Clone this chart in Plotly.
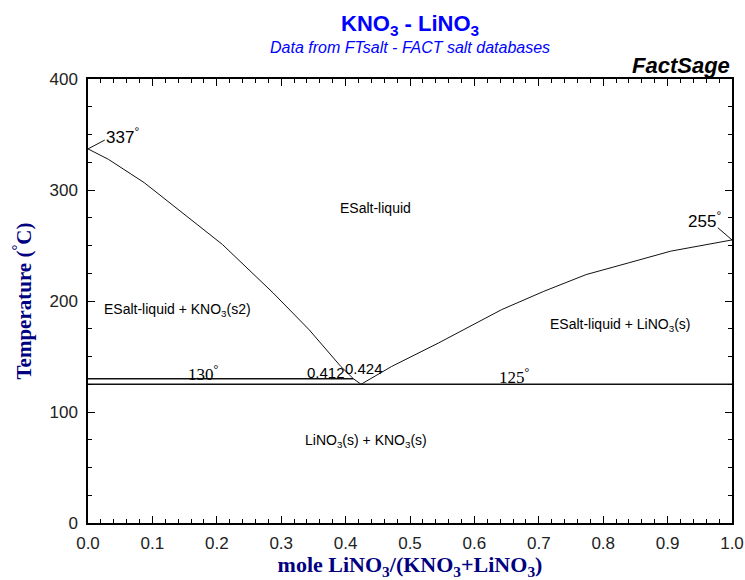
import plotly.graph_objects as go

# Liquidus, KNO3-rich branch (mole fraction LiNO3, temperature °C)
left_x = [0.0, 0.0315, 0.0873, 0.1497, 0.2088, 0.2876, 0.3434, 0.3926, 0.412, 0.424]
left_T = [337, 327.7, 306.6, 278.0, 250.9, 207.2, 174.1, 141.0, 130.0, 125.0]

# Liquidus, LiNO3-rich branch
right_x = [0.424, 0.4714, 0.5437, 0.6422, 0.7078, 0.7735, 0.8391, 0.9048, 1.0]
right_T = [125.0, 141.0, 162.0, 192.2, 208.7, 223.8, 234.3, 244.9, 255.0]

# Invariant lines
trans_x = [0.0, 0.412]
trans_T = [130, 130]
eut_x = [0.0, 1.0]
eut_T = [125, 125]

# Leader lines for melting point labels
lead337_x = [0.0, 0.026]
lead337_T = [337, 345]
lead255_x = [1.0, 0.978]
lead255_T = [255, 266]

x_ticks = [0.0, 0.1, 0.2, 0.3, 0.4, 0.5, 0.6, 0.7, 0.8, 0.9, 1.0]
y_ticks = [0, 100, 200, 300, 400]

fig = go.Figure()
for xs, ys, w in [(left_x, left_T, 1), (right_x, right_T, 1), (trans_x, trans_T, 1.6),
                  (eut_x, eut_T, 1.6), (lead337_x, lead337_T, 1), (lead255_x, lead255_T, 1)]:
    fig.add_trace(go.Scatter(x=xs, y=ys, mode="lines", line=dict(color="#111", width=w),
                             hoverinfo="skip", showlegend=False))

sans = "Liberation Sans, Arial, sans-serif"
serif = "Liberation Serif, Times New Roman, serif"

labels = [
    ("ESalt-liquid", 0.446, 284, sans, 14),
    ("ESalt-liquid + KNO<sub>3</sub>(s2)", 0.139, 192, sans, 14),
    ("ESalt-liquid + LiNO<sub>3</sub>(s)", 0.826, 178, sans, 14),
    ("LiNO<sub>3</sub>(s) + KNO<sub>3</sub>(s)", 0.432, 74, sans, 14),
    ("130<sup>°</sup>", 0.18, 135.5, serif, 17),
    ("125<sup>°</sup>", 0.663, 132.5, serif, 17),
    ("0.412", 0.370, 136, sans, 15),
    ("0.424", 0.428, 139.5, sans, 15),
    ("337<sup>°</sup>", 0.053, 349, sans, 17),
    ("255<sup>°</sup>", 0.958, 273, sans, 17),
]
for txt, x, y, fam, sz in labels:
    fig.add_annotation(x=x, y=y, xref="x", yref="y", text=txt, showarrow=False,
                       font=dict(family=fam, size=sz, color="black"))

fig.add_annotation(x=0.5, y=1.157, xref="paper", yref="paper", showarrow=False,
                   text="<b>KNO<sub>3</sub> - LiNO<sub>3</sub></b>",
                   font=dict(family=sans, size=22, color="#0000ff"))
fig.add_annotation(x=0.5, y=1.094, xref="paper", yref="paper", showarrow=False,
                   text="<i>Data from FTsalt - FACT salt databases</i>",
                   font=dict(family=sans, size=16, color="#0000ff"))
fig.add_annotation(x=1.0, y=1.062, xref="paper", yref="paper", showarrow=False, xanchor="right",
                   text="<b><i>FactSage</i></b>",
                   font=dict(family=sans, size=22, color="black"))

tickfont = dict(family=sans, size=17, color="#222")
axis_common = dict(showline=True, linecolor="black", linewidth=1.5, mirror="allticks",
                   ticks="inside", ticklen=7, tickwidth=1.2, tickcolor="black",
                   showgrid=False, zeroline=False, tickfont=tickfont, automargin=False)

fig.update_xaxes(range=[0, 1], tickvals=x_ticks, ticktext=[f"{v:.1f}" for v in x_ticks],
                 ticklabelstandoff=4,
                 minor=dict(dtick=0.02, ticks="inside", ticklen=4, tickcolor="black", tickwidth=1),
                 title=dict(text="<b>mole LiNO<sub>3</sub>/(KNO<sub>3</sub>+LiNO<sub>3</sub>)</b>",
                            font=dict(family=serif, size=22, color="#000080"), standoff=6),
                 **axis_common)
fig.update_yaxes(range=[0, 400], tickvals=y_ticks, ticktext=[str(v) for v in y_ticks],
                 ticklabelstandoff=5,
                 minor=dict(dtick=25, ticks="inside", ticklen=4, tickcolor="black", tickwidth=1),
                 title=dict(text="<b>Temperature (<sup>°</sup>C)</b>",
                            font=dict(family=serif, size=21, color="#000080"), standoff=12),
                 **axis_common)

fig.update_layout(width=745, height=580, plot_bgcolor="white", paper_bgcolor="white",
                  margin=dict(l=88, r=13, t=79, b=57), showlegend=False)

fig.write_html("out.html", config={"displayModeBar": False},
               post_script="document.body.style.margin='0';document.body.style.overflow='hidden';"
                           "document.documentElement.style.overflow='hidden';")
